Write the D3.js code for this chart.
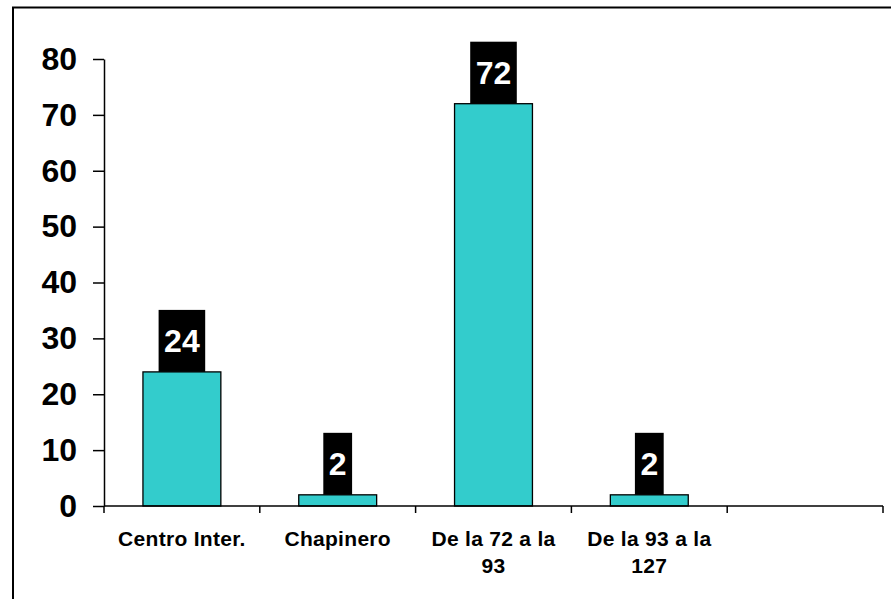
<!DOCTYPE html>
<html>
<head>
<meta charset="utf-8">
<script src="https://cdn.jsdelivr.net/npm/d3@7.9.0/dist/d3.min.js"></script>
<style>
  body { margin: 0; background: #fff; }
  svg { display: block; font-family: "Liberation Sans", Arial, sans-serif; }
</style>
</head>
<body>
<div id="chart"></div>
<script>
// data
const categories = ['Centro Inter.', 'Chapinero', 'De la 72 a la 93', 'De la 93 a la 127', ''];
const values = [24, 2, 72, 2, null];
const yTicks = [0, 10, 20, 30, 40, 50, 60, 70, 80];

const width = 891, height = 599;
const plot = { left: 104, right: 883, top: 59, bottom: 506 };

const svg = d3.select('#chart').append('svg')
  .attr('width', width)
  .attr('height', height);

// outer frame (runs off the right and bottom edges)
svg.append('rect')
  .attr('x', 13).attr('y', 7.5)
  .attr('width', 900).attr('height', 700)
  .attr('fill', 'none')
  .attr('stroke', '#000')
  .attr('stroke-width', 2);

const x = d3.scaleBand().domain(categories).range([plot.left, plot.right]).padding(0);
const y = d3.scaleLinear().domain([0, 80]).range([plot.bottom, plot.top]);

// bars
const rows = categories.map((c, i) => ({ cat: c, value: values[i] })).filter(d => d.value != null);
const barW = x.bandwidth() * 0.5;

svg.append('g').selectAll('rect')
  .data(rows)
  .join('rect')
  .attr('x', d => x(d.cat) + (x.bandwidth() - barW) / 2)
  .attr('y', d => y(d.value))
  .attr('width', barW)
  .attr('height', d => y(0) - y(d.value))
  .attr('fill', '#33CCCC')
  .attr('stroke', '#000')
  .attr('stroke-width', 1.3);

// y axis
const yAxis = svg.append('g')
  .attr('transform', `translate(${plot.left},0)`)
  .call(d3.axisLeft(y).tickValues(yTicks).tickSize(11).tickSizeOuter(0).tickPadding(16));
yAxis.select('.domain').attr('stroke', '#000').attr('stroke-width', 1.5);
yAxis.selectAll('.tick line').attr('stroke', '#000').attr('stroke-width', 1.5);
yAxis.selectAll('.tick text')
  .attr('font-family', '"Liberation Sans", Arial, sans-serif')
  .attr('font-size', 32)
  .attr('font-weight', 'bold')
  .attr('fill', '#000');

// x axis: line plus ticks at band edges
const xg = svg.append('g');
xg.append('line')
  .attr('x1', plot.left).attr('x2', plot.right)
  .attr('y1', y(0)).attr('y2', y(0))
  .attr('stroke', '#000').attr('stroke-width', 1.5);

const edges = categories.map(c => x(c)).concat([x(categories[categories.length - 1]) + x.bandwidth()]);
xg.selectAll('line.tk')
  .data(edges)
  .join('line')
  .attr('class', 'tk')
  .attr('x1', d => d).attr('x2', d => d)
  .attr('y1', y(0)).attr('y2', y(0) + 7)
  .attr('stroke', '#000').attr('stroke-width', 1.5);

// category labels, wrapped to the band width
const labels = xg.selectAll('text.cat')
  .data(categories.filter(c => c !== ''))
  .join('text')
  .attr('class', 'cat')
  .attr('x', d => x(d) + x.bandwidth() / 2)
  .attr('y', 546)
  .attr('text-anchor', 'middle')
  .attr('font-size', 21)
  .attr('font-weight', 'bold')
  .attr('letter-spacing', 0.3)
  .attr('fill', '#000');

labels.each(function (d) {
  const text = d3.select(this);
  const cx = +text.attr('x');
  const words = d.split(' ');
  text.text(null);
  let line = [];
  let tspan = text.append('tspan').attr('x', cx).attr('dy', 0);
  for (const w of words) {
    line.push(w);
    tspan.text(line.join(' '));
    if (tspan.node().getComputedTextLength() > 150 && line.length > 1) {
      line.pop();
      tspan.text(line.join(' '));
      line = [w];
      tspan = text.append('tspan').attr('x', cx).attr('dy', 27).text(w);
    }
  }
});

// value labels: black boxes sitting on the bars
const lab = svg.append('g').selectAll('g')
  .data(rows)
  .join('g');

lab.append('text')
  .attr('x', d => x(d.cat) + x.bandwidth() / 2)
  .attr('y', d => y(d.value) - 31)
  .attr('text-anchor', 'middle')
  .attr('dominant-baseline', 'central')
  .attr('font-size', 32)
  .attr('font-weight', 'bold')
  .attr('fill', '#fff')
  .text(d => d.value);

lab.each(function (d) {
  const g = d3.select(this);
  const t = g.select('text');
  const w = t.node().getComputedTextLength() + 11;
  g.insert('rect', 'text')
    .attr('x', x(d.cat) + x.bandwidth() / 2 - w / 2)
    .attr('y', y(d.value) - 62)
    .attr('width', w)
    .attr('height', 62)
    .attr('fill', '#000');
});
</script>
</body>
</html>
